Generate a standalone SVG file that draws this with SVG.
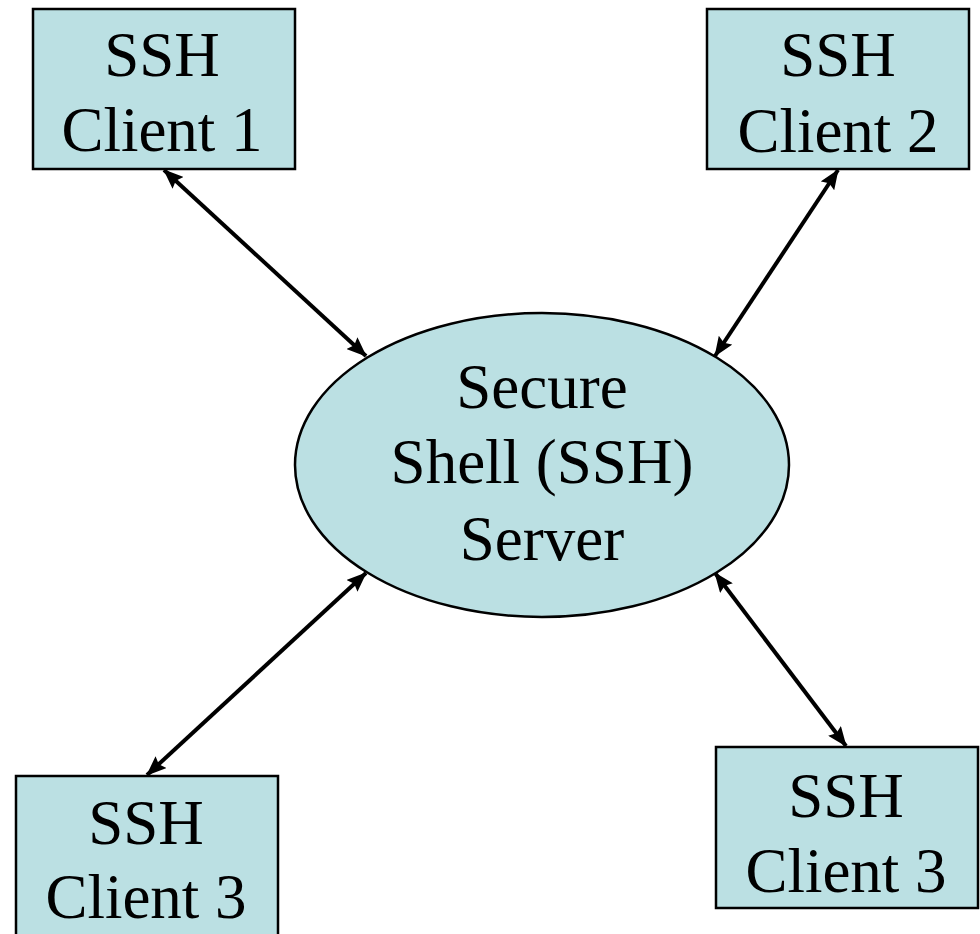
<svg xmlns="http://www.w3.org/2000/svg" width="980" height="934" viewBox="0 0 980 934">
  <style>
    .box { fill: #BBE0E3; stroke: #000; stroke-width: 2.5; }
    .lbl { font-family: "Liberation Serif", "Times New Roman", serif; font-size: 63px; fill: #000; text-anchor: middle; }
    .link { stroke: #000; stroke-width: 4; fill: none; marker-start: url(#head); marker-end: url(#head); }
  </style>
  <defs>
    <marker id="head" markerUnits="userSpaceOnUse" markerWidth="20" markerHeight="16" viewBox="0 0 20 16" refX="19" refY="8" orient="auto-start-reverse">
      <path d="M0,0 L20,8 L0,16 L3,8 z" fill="#000"/>
    </marker>
  </defs>

  <rect width="980" height="934" fill="#fff"/>

  <g id="connectors">
    <line class="link" x1="164" y1="170" x2="366" y2="356"/>
    <line class="link" x1="838" y1="170" x2="715" y2="356"/>
    <line class="link" x1="366" y1="573" x2="147" y2="775"/>
    <line class="link" x1="715" y1="573" x2="846" y2="746"/>
  </g>

  <g id="server">
    <ellipse class="box" cx="542" cy="465" rx="247" ry="152" stroke-width="2"/>
    <text class="lbl" x="542" y="408">Secure</text>
    <text class="lbl" x="542" y="483">Shell (SSH)</text>
    <text class="lbl" x="542" y="560">Server</text>
  </g>

  <g id="client1">
    <rect class="box" x="33" y="9" width="262" height="160"/>
    <text class="lbl" x="162" y="76">SSH</text>
    <text class="lbl" x="162" y="151">Client 1</text>
  </g>

  <g id="client2">
    <rect class="box" x="707" y="9" width="262" height="160"/>
    <text class="lbl" x="838" y="76">SSH</text>
    <text class="lbl" x="838" y="152">Client 2</text>
  </g>

  <g id="client3-left">
    <rect class="box" x="16" y="776" width="262" height="170"/>
    <text class="lbl" x="146" y="844">SSH</text>
    <text class="lbl" x="146" y="918">Client 3</text>
  </g>

  <g id="client3-right">
    <rect class="box" x="716" y="747" width="262" height="161"/>
    <text class="lbl" x="846" y="817">SSH</text>
    <text class="lbl" x="846" y="892">Client 3</text>
  </g>
</svg>
